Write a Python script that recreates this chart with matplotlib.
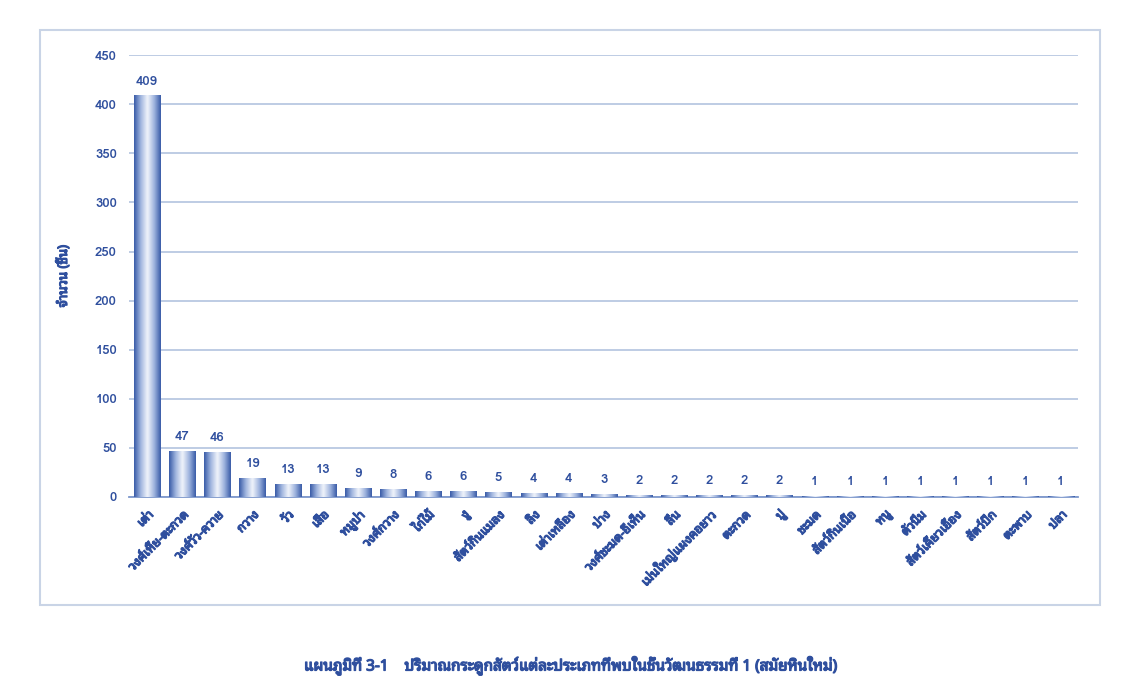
import numpy as np
import matplotlib
matplotlib.use("Agg")
import matplotlib.pyplot as plt
import matplotlib.patheffects as pe
from matplotlib.colors import LinearSegmentedColormap
from matplotlib.patches import Rectangle

# --- Data
categories = ["เต่า", "วงศ์เหี้ย-ตะกวด", "วงศ์วัว-ควาย", "กวาง", "วัว", "เสือ",
              "หมูป่า", "วงศ์กวาง", "ไก่ไม้", "งู", "สัตว์กินแมลง", "ลิง",
              "เต่าเหลือง", "บ่าง", "วงศ์ชะมด-อีเห็น", "ลิ่น", "เม่นใหญ่แผงคอยาว",
              "ตะกวด", "ปู", "ชะมด", "สัตว์กินเนื้อ", "หนู", "ตัวนิ่ม",
              "สัตว์เคี้ยวเอื้อง", "สัตว์ปีก", "ตะพาบ", "ปลา"]
counts = [409, 47, 46, 19, 13, 13, 9, 8, 6, 6, 5, 4, 4, 3, 2, 2, 2, 2, 2,
          1, 1, 1, 1, 1, 1, 1, 1]
y_ticks = [0, 50, 100, 150, 200, 250, 300, 350, 400, 450]
y_title = "จำนวน (ชิ้น)"
caption = "แผนภูมิที่ 3-1    ปริมาณกระดูกสัตว์แต่ละประเภทที่พบในชั้นวัฒนธรรมที่ 1 (สมัยหินใหม่)"
# ---

THAI = ["Noto Sans Thai Looped", "Loma", "DejaVu Sans"]
NUM = ["Loma", "DejaVu Sans"]
plt.rcParams["font.family"] = THAI
TXT = "#2f4f9e"
fat = [pe.withStroke(linewidth=0.9, foreground=TXT)]  # thicken Thai text

fig = plt.figure(figsize=(11.39, 6.99), dpi=100)

# chart frame
fig.patches.append(Rectangle((0.035, 0.134), 0.931, 0.823, transform=fig.transFigure,
                             fill=False, edgecolor="#c9d4e6", linewidth=1.5))

ax = fig.add_axes([0.1136, 0.289, 0.833, 0.632])
x = np.arange(len(categories))
bars = ax.bar(x, counts, width=0.74, color="#4a6cb5", edgecolor="none", zorder=2)

cmap = LinearSegmentedColormap.from_list("bar", ["#eef2fa", "#9fb4de", "#3a5ca8"])
grad = np.abs(np.linspace(-1, 1, 64))[None, :]
for b in bars:
    x0, w, h = b.get_x(), b.get_width(), b.get_height()
    im = ax.imshow(grad, cmap=cmap, extent=[x0, x0 + w, 0, h], aspect="auto",
                   interpolation="bicubic", zorder=3)
    im.set_clip_path(b)
    ax.text(x0 + w / 2, h + 8, str(int(h)), ha="center", va="bottom",
            fontsize=9.5, fontweight="bold", color=TXT, family=NUM)

ax.set_xlim(-0.5, len(categories) - 0.5)
ax.set_ylim(0, 450)
ax.set_yticks(y_ticks)
ax.yaxis.grid(True, color="#b9c8e2", linewidth=1.3, zorder=0)
ax.set_axisbelow(True)
for s in ["top", "right", "left"]:
    ax.spines[s].set_visible(False)
ax.spines["bottom"].set_color("#7d97cc")
ax.spines["bottom"].set_linewidth(1.3)
ax.tick_params(axis="both", length=0, colors=TXT)
ax.tick_params(axis="y", pad=9)
ax.tick_params(axis="x", pad=8)
for lab in ax.get_yticklabels():
    lab.set_fontweight("bold")
    lab.set_fontsize(9.5)
    lab.set_family(NUM)
ax.set_xticks(x)
ax.set_xticklabels(categories, rotation=45, ha="right", rotation_mode="anchor",
                   fontsize=9, color=TXT, path_effects=fat)
ax.set_ylabel(y_title, fontsize=9.5, color=TXT, labelpad=18, path_effects=fat)

fig.text(0.502, 0.048, caption, ha="center", va="center", fontsize=11,
         color=TXT, path_effects=fat)

fig.savefig("out.png", dpi=100)
